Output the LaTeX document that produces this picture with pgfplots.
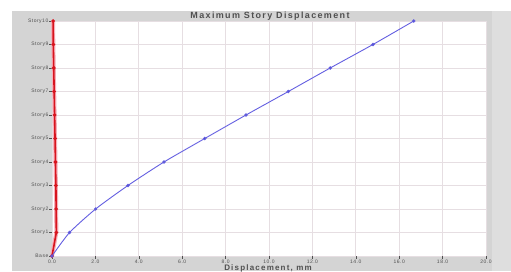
\documentclass[border=0pt]{standalone}
\usepackage{fontspec}
\setmainfont{Liberation Sans}
\newfontfamily\lsfont[LetterSpace=10]{Liberation Sans}
\newfontfamily\tfont[LetterSpace=15]{Liberation Sans}
\usepackage{pgfplots}
\pgfplotsset{compat=1.18}
\definecolor{panel}{RGB}{212,212,212}
\definecolor{panelout}{RGB}{222,222,222}
\definecolor{gridc}{RGB}{230,222,226}
\definecolor{blueline}{RGB}{100,95,225}
\definecolor{bluemark}{RGB}{45,45,150}
\definecolor{redline}{RGB}{215,20,30}
\definecolor{redglow}{RGB}{245,175,185}
\definecolor{txt}{RGB}{80,80,80}
\begin{document}
\begin{tikzpicture}[x=1pt,y=1pt]
\path[use as bounding box] (0,0) rectangle (511,271);
\fill[panelout] (12,0) rectangle (511,260);
\fill[panel] (12,0) rectangle (492,260);
\begin{axis}[
  at={(52pt,15pt)}, anchor=south west,
  scale only axis, width=434pt, height=235pt,
  xmin=0, xmax=20, ymin=0, ymax=10,
  xtick={0,2,...,20},
  ytick={0,1,...,10},
  xtick pos=bottom, ytick pos=left,
  yticklabels={Base,Story1,Story2,Story3,Story4,Story5,Story6,Story7,Story8,Story9,Story10},
  xticklabel style={/pgf/number format/.cd,fixed,fixed zerofill,precision=1},
  /pgf/number format/assume math mode=true,
  ticklabel style={font=\lsfont\fontsize{5}{5}\selectfont, text=txt, inner sep=1pt},
  tick align=outside, major tick length=2.5pt,
  tick style={draw=txt, line width=0.4pt},
  axis background/.style={fill=white},
  axis line style={draw=none},
  grid=major,
  major grid style={draw=gridc, line width=0.7pt},
  clip=false,
]
\addplot[redglow, line width=4pt, forget plot] coordinates {
(0,0) (0.2,1) (0.19,2) (0.18,3) (0.16,4) (0.14,5) (0.12,6) (0.1,7) (0.08,8) (0.06,9) (0.05,10)};
\addplot[redline, line width=1.6pt, mark=*, mark size=0.9pt, mark options={fill=redline, draw=none}] coordinates {
(0,0) (0.2,1) (0.19,2) (0.18,3) (0.16,4) (0.14,5) (0.12,6) (0.1,7) (0.08,8) (0.06,9) (0.05,10)};
\addplot[blueline, line width=0.9pt, smooth, tension=0.4, mark=*, mark size=1.2pt, mark options={fill=bluemark, draw=none}] coordinates {
(0,0) (0.81,1) (2.01,2) (3.50,3) (5.16,4) (7.04,5) (8.94,6) (10.89,7) (12.82,8) (14.79,9) (16.67,10)};
\end{axis}
\node[font=\tfont\bfseries\fontsize{9}{9}\selectfont, text=txt] at (270,255) {Maximum Story Displacement};
\node[font=\tfont\bfseries\fontsize{8}{8}\selectfont, text=txt] at (268,2.5) {Displacement, mm};
\end{tikzpicture}
\end{document}
